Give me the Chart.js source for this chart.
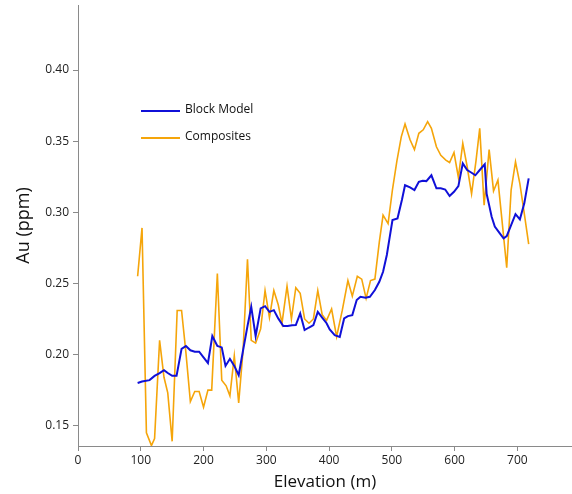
<!DOCTYPE html>
<html><head><meta charset="utf-8">
<script src="https://cdn.jsdelivr.net/npm/chart.js@4/dist/chart.umd.min.js"></script>
<style>html,body{margin:0;padding:0;background:#fff}#wrap{width:572px;height:494px;position:relative}</style>
</head><body><div id="wrap"><canvas id="c" width="572" height="494"></canvas></div>
<script>
const bmElev = [95,102,114,122,130,137,143,150,157,165,172,179,186,193,200,207,214,222,229,235,242,249,256,263,270,276,283,291,298,305,312,319,327,334,341,347,354,361,368,375,382,389,396,401,409,417,424,430,437,444,450,458,465,473,480,486,492,496,501,509,516,521,529,536,543,549,555,563,571,578,585,592,599,606,613,620,627,633,640,648,651,655,659,664,672,678,683,690,697,704,711,718];
const bmAu = [0.180,0.181,0.182,0.185,0.187,0.189,0.187,0.185,0.185,0.204,0.206,0.203,0.202,0.202,0.198,0.194,0.213,0.206,0.205,0.192,0.197,0.192,0.1855,0.203,0.220,0.2335,0.213,0.2324,0.234,0.230,0.2312,0.2254,0.220,0.220,0.2205,0.2207,0.2289,0.2172,0.219,0.2207,0.230,0.226,0.222,0.2176,0.2136,0.2124,0.2254,0.227,0.2277,0.2383,0.2406,0.240,0.2406,0.2453,0.2511,0.2582,0.270,0.281,0.2945,0.2957,0.3086,0.319,0.3175,0.3156,0.3214,0.3222,0.3219,0.326,0.3168,0.3168,0.316,0.3114,0.3144,0.3184,0.3344,0.3297,0.3278,0.326,0.3297,0.3337,0.313,0.305,0.2968,0.290,0.2852,0.2817,0.2833,0.291,0.2987,0.295,0.3063,0.3238];

const compElev = [95,102,109,117,122,130,137,143,150,158,165,172,179,186,193,200,207,213,222,229,236,242,249,256,263,270,276,283,291,298,305,312,319,325,333,340,347,354,361,368,375,382,389,396,404,412,421,430,437,445,452,459,466,473,480,486,494,501,508,515,521,529,536,543,550,557,563,571,578,586,592,599,606,613,620,627,634,640,647,655,662,669,676,683,690,697,704,711,718];
const compAu = [0.255,0.289,0.145,0.136,0.141,0.210,0.184,0.173,0.139,0.231,0.231,0.201,0.167,0.174,0.174,0.163,0.175,0.175,0.257,0.182,0.178,0.171,0.199,0.166,0.203,0.267,0.210,0.208,0.218,0.245,0.226,0.245,0.235,0.222,0.248,0.225,0.247,0.243,0.225,0.222,0.225,0.245,0.228,0.224,0.232,0.2125,0.231,0.252,0.241,0.255,0.253,0.2395,0.252,0.253,0.279,0.298,0.292,0.316,0.336,0.353,0.362,0.351,0.344,0.3555,0.358,0.3637,0.359,0.346,0.340,0.3367,0.335,0.342,0.3245,0.3485,0.332,0.313,0.336,0.359,0.305,0.344,0.315,0.3226,0.292,0.261,0.3156,0.3355,0.320,0.299,0.2776];

const xTicks = [0,100,200,300,400,500,600,700];
const yTicks = [0.15,0.20,0.25,0.30,0.35,0.40];
const seriesNames = ['Block Model','Composites'];
const seriesColors = ['#1010d8','#f5a50a'];

const toPts = (xs, ys) => xs.map((x, i) => ({x: x, y: ys[i]}));

const legendPlugin = {
  id: 'inlineLegend',
  afterDatasetsDraw(chart) {
    const ctx = chart.ctx;
    ctx.save();
    ctx.font = '12px "Open Sans", sans-serif';
    ctx.textBaseline = 'middle';
    ctx.fillStyle = '#111';
    const x0 = 141, rows = [111, 138];
    seriesNames.forEach((n, i) => {
      ctx.strokeStyle = seriesColors[i];
      ctx.lineWidth = 2;
      ctx.beginPath(); ctx.moveTo(x0, rows[i]); ctx.lineTo(x0 + 39, rows[i]); ctx.stroke();
      ctx.fillText(n, x0 + 44, rows[i] - 1);
    });
    ctx.restore();
  }
};

new Chart(document.getElementById('c'), {
  type: 'scatter',
  data: {
    datasets: [
      {label: seriesNames[0], data: toPts(bmElev, bmAu), showLine: true, borderColor: seriesColors[0], borderWidth: 2, pointRadius: 0, tension: 0},
      {label: seriesNames[1], data: toPts(compElev, compAu), showLine: true, borderColor: seriesColors[1], borderWidth: 1.6, pointRadius: 0, tension: 0}
    ]
  },
  options: {
    responsive: false,
    animation: false,
    devicePixelRatio: 1,
    layout: {padding: {top: 5, right: 0, left: 0, bottom: 0}},
    plugins: {legend: {display: false}, tooltip: {enabled: false}},
    scales: {
      x: {
        type: 'linear', min: 0, max: 787,
        afterBuildTicks: s => { s.ticks = xTicks.map(v => ({value: v})); },
        afterFit: s => { s.height = 48; s.paddingLeft = 0; s.paddingRight = 0; },
        border: {display: true, color: '#8a8a8a', width: 1},
        grid: {display: true, drawOnChartArea: false, drawTicks: true, tickLength: 5, color: '#8a8a8a'},
        ticks: {color: '#222', font: {family: '"Open Sans", sans-serif', size: 12}, padding: 2, maxRotation: 0, callback: v => String(v)},
        title: {display: true, text: 'Elevation (m)', color: '#111', font: {family: '"Open Sans", sans-serif', size: 17}, padding: {top: 2, bottom: 2}}
      },
      y: {
        type: 'linear', min: 0.1357, max: 0.4457,
        afterBuildTicks: s => { s.ticks = yTicks.map(v => ({value: v})); },
        afterFit: s => { s.width = 78; s.paddingTop = 0; s.paddingBottom = 0; },
        border: {display: true, color: '#8a8a8a', width: 1},
        grid: {display: true, drawOnChartArea: false, drawTicks: true, tickLength: 5, color: '#8a8a8a'},
        ticks: {color: '#222', font: {family: '"Open Sans", sans-serif', size: 12}, padding: 4, callback: v => v.toFixed(2)},
        title: {display: true, text: 'Au (ppm)', color: '#111', font: {family: '"Open Sans", sans-serif', size: 18}, padding: {top: 13, bottom: 0}}
      }
    }
  },
  plugins: [legendPlugin]
});
</script>
</body></html>
